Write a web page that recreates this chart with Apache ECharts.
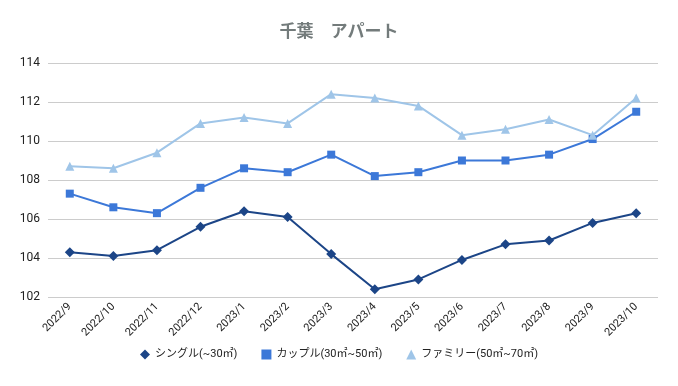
<!DOCTYPE html>
<html><head><meta charset="utf-8">
<script src="https://cdn.jsdelivr.net/npm/echarts@6/dist/echarts.min.js"></script>
<style>html,body{margin:0;padding:0;background:#fff}#c{width:678px;height:386px}</style>
</head><body><div id="c"></div>
<script>
const categories = ['2022/9','2022/10','2022/11','2022/12','2023/1','2023/2','2023/3','2023/4','2023/5','2023/6','2023/7','2023/8','2023/9','2023/10'];
const single = [104.3,104.1,104.4,105.6,106.4,106.1,104.2,102.4,102.9,103.9,104.7,104.9,105.8,106.3];
const couple = [107.3,106.6,106.3,107.6,108.6,108.4,109.3,108.2,108.4,109.0,109.0,109.3,110.1,111.5];
const family = [108.7,108.6,109.4,110.9,111.2,110.9,112.4,112.2,111.8,110.3,110.6,111.1,110.3,112.2];
const names = ['シングル(~30㎡)','カップル(30㎡~50㎡)','ファミリー(50㎡~70㎡)'];
const font = "Roboto, 'Noto Sans CJK JP', sans-serif";
const chart = echarts.init(document.getElementById('c'));
function s(name, data, color, symbol, size){
  return {name, type:'line', data, symbol, symbolSize:size, showSymbol:true,
    itemStyle:{color}, lineStyle:{color, width:2}, emphasis:{disabled:true}};
}
chart.setOption({
  animation:false,
  title:{text:'千葉　アパート', left:'center', top:19,
    textStyle:{color:'#737b7b', fontSize:17, fontWeight:'bold', fontFamily:font}},
  grid:{left:48, right:20, top:63, bottom:89},
  legend:{bottom:21, left:'center', itemWidth:10, itemHeight:10, itemGap:24,
    textStyle:{color:'#222', fontSize:11, fontFamily:font},
    data:[{name:names[0], icon:'diamond'},{name:names[1], icon:'rect'},{name:names[2], icon:'triangle'}]},
  xAxis:{type:'category', data:categories, boundaryGap:true,
    axisLine:{show:false}, axisTick:{show:false},
    axisLabel:{rotate:45, color:'#222', fontSize:11, fontFamily:font, margin:8, interval:0}},
  yAxis:{type:'value', min:102, max:114, interval:2,
    axisLine:{show:false}, axisTick:{show:false},
    splitLine:{lineStyle:{color:'#cccccc', width:1}},
    axisLabel:{color:'#222', fontSize:12, fontFamily:font, margin:8}},
  series:[
    s(names[0], single, '#1c4587', 'diamond', 10),
    s(names[1], couple, '#3c78d8', 'rect', 8),
    s(names[2], family, '#9fc5e8', 'triangle', 9)
  ]
});
</script></body></html>
